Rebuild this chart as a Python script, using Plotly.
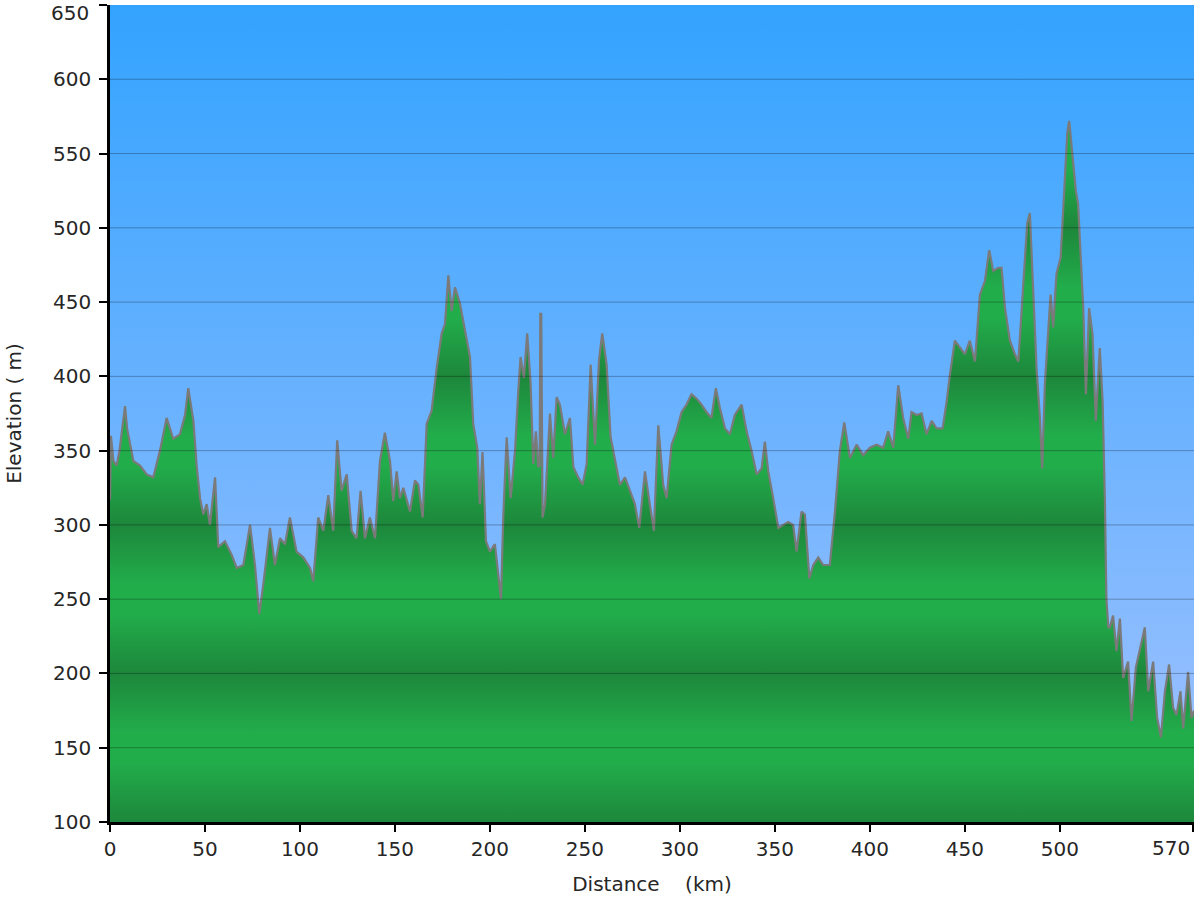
import plotly.graph_objects as go

# ---- data ----
distance_km = [
    0, 0.5, 1.8, 3.5, 5, 7.9, 9, 10.5, 12.3, 15.8, 19.3, 22.8, 26.3, 29.8, 33.3,
    36.8, 39.5, 41.2, 43.9, 45.6, 47.4, 49.1, 50.9, 52.6, 55.3, 57, 60.5, 64,
    66.7, 70.2, 73.7, 76.3, 78.6, 80.7, 84.2, 86.8, 89.5, 92.1, 94.7, 98.2,
    101.8, 105.3, 107, 109.6, 112.3, 114.9, 117.5, 119.6, 121.9, 124.6, 127.2,
    129.8, 131.9, 134.2, 136.8, 139.5, 142.1, 144.7, 147.4, 149.1, 150.9,
    152.6, 154.4, 157.9, 160.5, 162.3, 164.6, 166.7, 169.3, 172, 174.6, 176.3,
    178.1, 179.8, 181.6, 184.2, 186.8, 189.5, 191.2, 193.3, 194.7, 196.1,
    197.9, 200, 202.6, 204.9, 205.8, 207, 208.8, 210.9, 213.2, 214.9, 216.1,
    217.9, 219.6, 221.4, 222.8, 224.2, 225.4, 226.2, 226.5, 227.0, 227.4,
    227.7, 229, 230.2, 231.6, 233.3, 235.1, 236.8, 239.5, 242.1, 243.9, 246.5,
    248.8, 250.9, 253, 255.3, 257.4, 259.1, 261.4, 263.5, 265.8, 268.4, 271.1,
    273.7, 276.3, 278.6, 281.6, 283.9, 286.3, 288.6, 291.2, 293, 295.6, 298.2,
    300.9, 303.5, 306.1, 308.8, 311.4, 314, 316.6, 318.9, 321, 323.7, 326.3,
    328.9, 332.5, 335.1, 337.7, 340.4, 343, 344.7, 346.5, 349.1, 351.8, 354.4,
    357, 359.6, 361.4, 364, 365.8, 368.1, 370.2, 372.8, 375.4, 378.9, 381.6,
    384.2, 386.5, 389.5, 393, 396.5, 400, 403.5, 407, 409.6, 412.3, 414.9,
    417.5, 420.2, 421.9, 424.6, 427.2, 429.8, 432.5, 435.1, 438.3, 440.4,
    442.1, 444.7, 447.4, 450, 452.6, 455.3, 457.9, 460.5, 462.8, 464.9, 467.5,
    469.3, 471.1, 473.7, 476.3, 478.1, 479.3, 481.1, 482.8, 484.2, 486, 487.7,
    489.5, 490.7, 492.1, 493.9, 495.1, 496.5, 498.2, 500.4, 502.1, 503.9,
    504.9, 506.7, 508.4, 509.6, 510.9, 512.3, 513.7, 515.4, 517.2, 518.9, 521,
    522.5, 523.7, 524.5, 525.5, 526.3, 528, 529.8, 531.6, 533.3, 535.9, 537.7,
    540, 542.1, 544.7, 546.5, 549.1, 551.2, 553.2, 555.3, 557.5, 559.6, 561.4,
    563.5, 564.9, 567.5, 569.3, 570.6,
]
elevation_m = [
    317, 360, 343, 340, 350, 380, 365, 356, 343, 340, 334, 332, 350, 372, 358,
    361, 374, 392, 370, 340, 318, 307, 314, 300, 332, 285, 289, 280,
    271, 273, 300, 273, 240, 260, 298, 273, 291, 287, 305, 282,
    278, 271, 262, 305, 296, 320, 296, 357, 323, 334, 296,
    291, 323, 291, 305, 291, 343, 362, 343, 316, 336,
    318, 325, 309, 330, 327, 305, 368, 377, 406, 429, 435,
    468, 444, 460, 449, 431, 413, 368, 352, 314, 349,
    289, 282, 287, 260, 250, 305, 359, 318, 350, 390, 413,
    399, 429, 395, 341, 363, 339, 340, 442, 442, 310,
    305, 314, 345, 375, 345, 386, 381, 361, 372, 339, 332,
    327, 341, 408, 354, 411, 429, 408, 359, 345, 327, 332,
    323, 314, 298, 336, 316, 296, 367, 327, 318, 354, 363,
    376, 381, 388, 385, 381, 376, 372, 392, 379, 365, 361,
    374, 381, 363, 350, 334, 338, 356, 336, 318, 298, 300,
    302, 300, 282, 309, 307, 264, 273, 278, 273, 273, 309,
    350, 369, 345, 354, 347, 352, 354, 352, 363, 352, 394,
    372, 358, 376, 374, 375, 361, 370, 365, 365, 383,
    401, 424, 419, 415, 424, 410, 455, 464, 485, 471, 473,
    473, 446, 424, 415, 410, 433, 473, 503, 510, 451, 406,
    372, 338, 395, 433, 455, 433, 469, 480, 518, 564,
    572, 545, 525, 516, 485, 446, 388, 446, 428, 370, 419,
    383, 316, 250, 231, 231, 239, 215, 237, 197, 208, 168,
    204, 217, 231, 188, 208, 170, 157, 188, 206, 177, 172,
    188, 163, 201, 170, 175,
]

y_ticks = [100, 150, 200, 250, 300, 350, 400, 450, 500, 550, 600, 650]
y_tick_text = ["100", "150", "200", "250", "300", "350", "400", "450", "500",
               "550", "600", "650"]
x_ticks = [0, 50, 100, 150, 200, 250, 300, 350, 400, 450, 500, 570]
x_tick_text = ["0", "50", "100", "150", "200", "250", "300", "350", "400",
               "450", "500", "570"]

X_RANGE = [0, 570.6]
Y_RANGE = [100, 650]

FONT = "DejaVu Sans, Verdana, sans-serif"
TEXT_COLOR = "#262626"

# green banded gradient: dark at every 100 m, bright around every odd 50 m
band_scale = []
for k in range(5):
    base = k / 5.0
    band_scale.append([base, "#1d873b"])
    band_scale.append([base + 0.08, "#22ad4b"])
    band_scale.append([base + 0.12, "#22ad4b"])
band_scale.append([1.0, "#1d873b"])

fig = go.Figure()

# sky background (gradient) spanning the axis range
fig.add_trace(go.Scatter(
    x=[X_RANGE[0], X_RANGE[1], X_RANGE[1], X_RANGE[0], X_RANGE[0]],
    y=[Y_RANGE[0], Y_RANGE[0], Y_RANGE[1], Y_RANGE[1], Y_RANGE[0]],
    mode="lines", line=dict(width=0), fill="toself",
    fillgradient=dict(type="vertical", start=Y_RANGE[0], stop=Y_RANGE[1],
                      colorscale=[[0, "#a3c2ff"], [1, "#33a3ff"]]),
    hoverinfo="skip", showlegend=False,
))

# elevation profile
fig.add_trace(go.Scatter(
    x=distance_km, y=elevation_m, mode="lines",
    line=dict(color="#7a7a7a", width=2.2),
    fill="tozeroy",
    fillgradient=dict(type="vertical", start=100, stop=600,
                      colorscale=band_scale),
    hoverinfo="skip", showlegend=False,
))

shapes = []
for yv in y_ticks[1:-1]:
    shapes.append(dict(type="line", xref="paper", x0=0, x1=1, yref="y",
                       y0=yv, y1=yv, layer="above",
                       line=dict(color="rgba(0,0,0,0.28)", width=1)))

# edge tick labels are nudged inward (as in the reference)
annotations = [
    dict(text=y_tick_text[-1], xref="paper", x=0, yref="y", y=y_ticks[-1],
         xanchor="right", yanchor="middle", xshift=-19, yshift=-8,
         showarrow=False, font=dict(size=20, color=TEXT_COLOR)),
    dict(text=x_tick_text[-1], xref="x", x=x_ticks[-1], yref="paper", y=0,
         xanchor="right", yanchor="top", xshift=-1, yshift=-12,
         showarrow=False, font=dict(size=20, color=TEXT_COLOR)),
]

fig.update_layout(
    width=1200, height=900,
    margin=dict(l=110, r=6, t=5, b=78),
    paper_bgcolor="white", plot_bgcolor="white",
    font=dict(family=FONT, size=20, color=TEXT_COLOR),
    shapes=shapes, annotations=annotations,
    showlegend=False,
)
fig.update_xaxes(
    range=X_RANGE, tickmode="array", tickvals=x_ticks,
    ticktext=x_tick_text[:-1] + [""],
    showgrid=False, zeroline=False, showline=True, linecolor="black",
    linewidth=2.5, ticks="outside", ticklen=7, tickwidth=2, tickcolor="black",
    tickfont=dict(size=20, color=TEXT_COLOR), automargin=False,
    title=dict(text="Distance\u00a0\u00a0\u00a0\u00a0(km)",
               font=dict(size=20, color=TEXT_COLOR), standoff=18),
)
fig.update_yaxes(
    range=Y_RANGE, tickmode="array", tickvals=y_ticks,
    ticktext=y_tick_text[:-1] + [""],
    showgrid=False, zeroline=False, showline=True, linecolor="black",
    linewidth=2.5, ticks="outside", ticklen=8, tickwidth=2, tickcolor="black",
    tickfont=dict(size=20, color=TEXT_COLOR), automargin=False,
    ticklabelstandoff=4,
    title=dict(text="Elevation ( m)", font=dict(size=20, color=TEXT_COLOR),
               standoff=27),
)

fig.write_html(
    "out.html",
    config={"displayModeBar": False},
    post_script="document.body.style.margin='0px';"
                "document.body.style.overflow='hidden';",
)
